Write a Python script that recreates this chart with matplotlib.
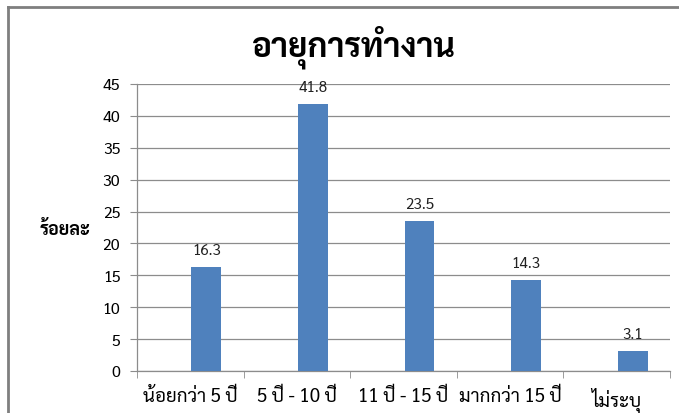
import matplotlib
matplotlib.use('Agg')
import matplotlib.pyplot as plt
from matplotlib.lines import Line2D
import numpy as np

categories = ['น้อยกว่า 5 ปี', '5 ปี - 10 ปี', '11 ปี - 15 ปี', 'มากกว่า 15 ปี', 'ไม่ระบุ']
values = [16.3, 41.8, 23.5, 14.3, 3.1]
title = 'อายุการทำงาน'
ylabel = 'ร้อยละ'

plt.rcParams['font.family'] = ['Sarabun', 'DejaVu Sans']

fig = plt.figure(figsize=(6.79, 4.14), dpi=100)
ax = fig.add_axes([137/679, 1 - 372/414, (670 - 137)/679, (372 - 85)/414])

x = np.arange(len(categories))
# bars sit a little right of the category centre, like the original
bx = x + 0.15
ax.bar(bx, values, width=0.28, color='#4F81BD', zorder=3)
for xi, v in zip(bx, values):
    ax.text(xi, v + 1.6, '%.1f' % v, ha='center', va='bottom', fontsize=11, color='#222222')

ax.set_xlim(-0.5, len(categories) - 0.5)
ax.set_ylim(0, 45)
ax.set_yticks(np.arange(0, 46, 5))
ax.yaxis.grid(True, color='#8c8c8c', linewidth=0.9)
ax.set_axisbelow(True)

ax.set_xticks(x)
ax.set_xticklabels(categories, fontsize=13.5)
ax.set_xticks(np.arange(-0.5, len(categories)), minor=True)
ax.tick_params(axis='x', which='major', length=0, pad=11)
ax.tick_params(axis='x', which='minor', length=5, color='#8c8c8c')
ax.tick_params(axis='y', length=5, color='#8c8c8c', labelsize=11.5, pad=7)

for s in ['top', 'right']:
    ax.spines[s].set_visible(False)
for s in ['left', 'bottom']:
    ax.spines[s].set_color('#8c8c8c')
    ax.spines[s].set_linewidth(0.9)

fig.text(354/679, 1 - 47/414, title, ha='center', va='center', fontsize=24, fontweight='bold')
fig.text(65/679, 1 - 230/414, ylabel, ha='center', va='center', fontsize=13, fontweight='bold')

# chart frame (cut off on the right and bottom)
fx, fy = 8/679, 1 - 8/414
fig.add_artist(Line2D([fx, fx], [0, fy], transform=fig.transFigure, color='#7f7f7f', linewidth=2))
fig.add_artist(Line2D([fx, 1], [fy, fy], transform=fig.transFigure, color='#7f7f7f', linewidth=2))

fig.savefig('out.png')
